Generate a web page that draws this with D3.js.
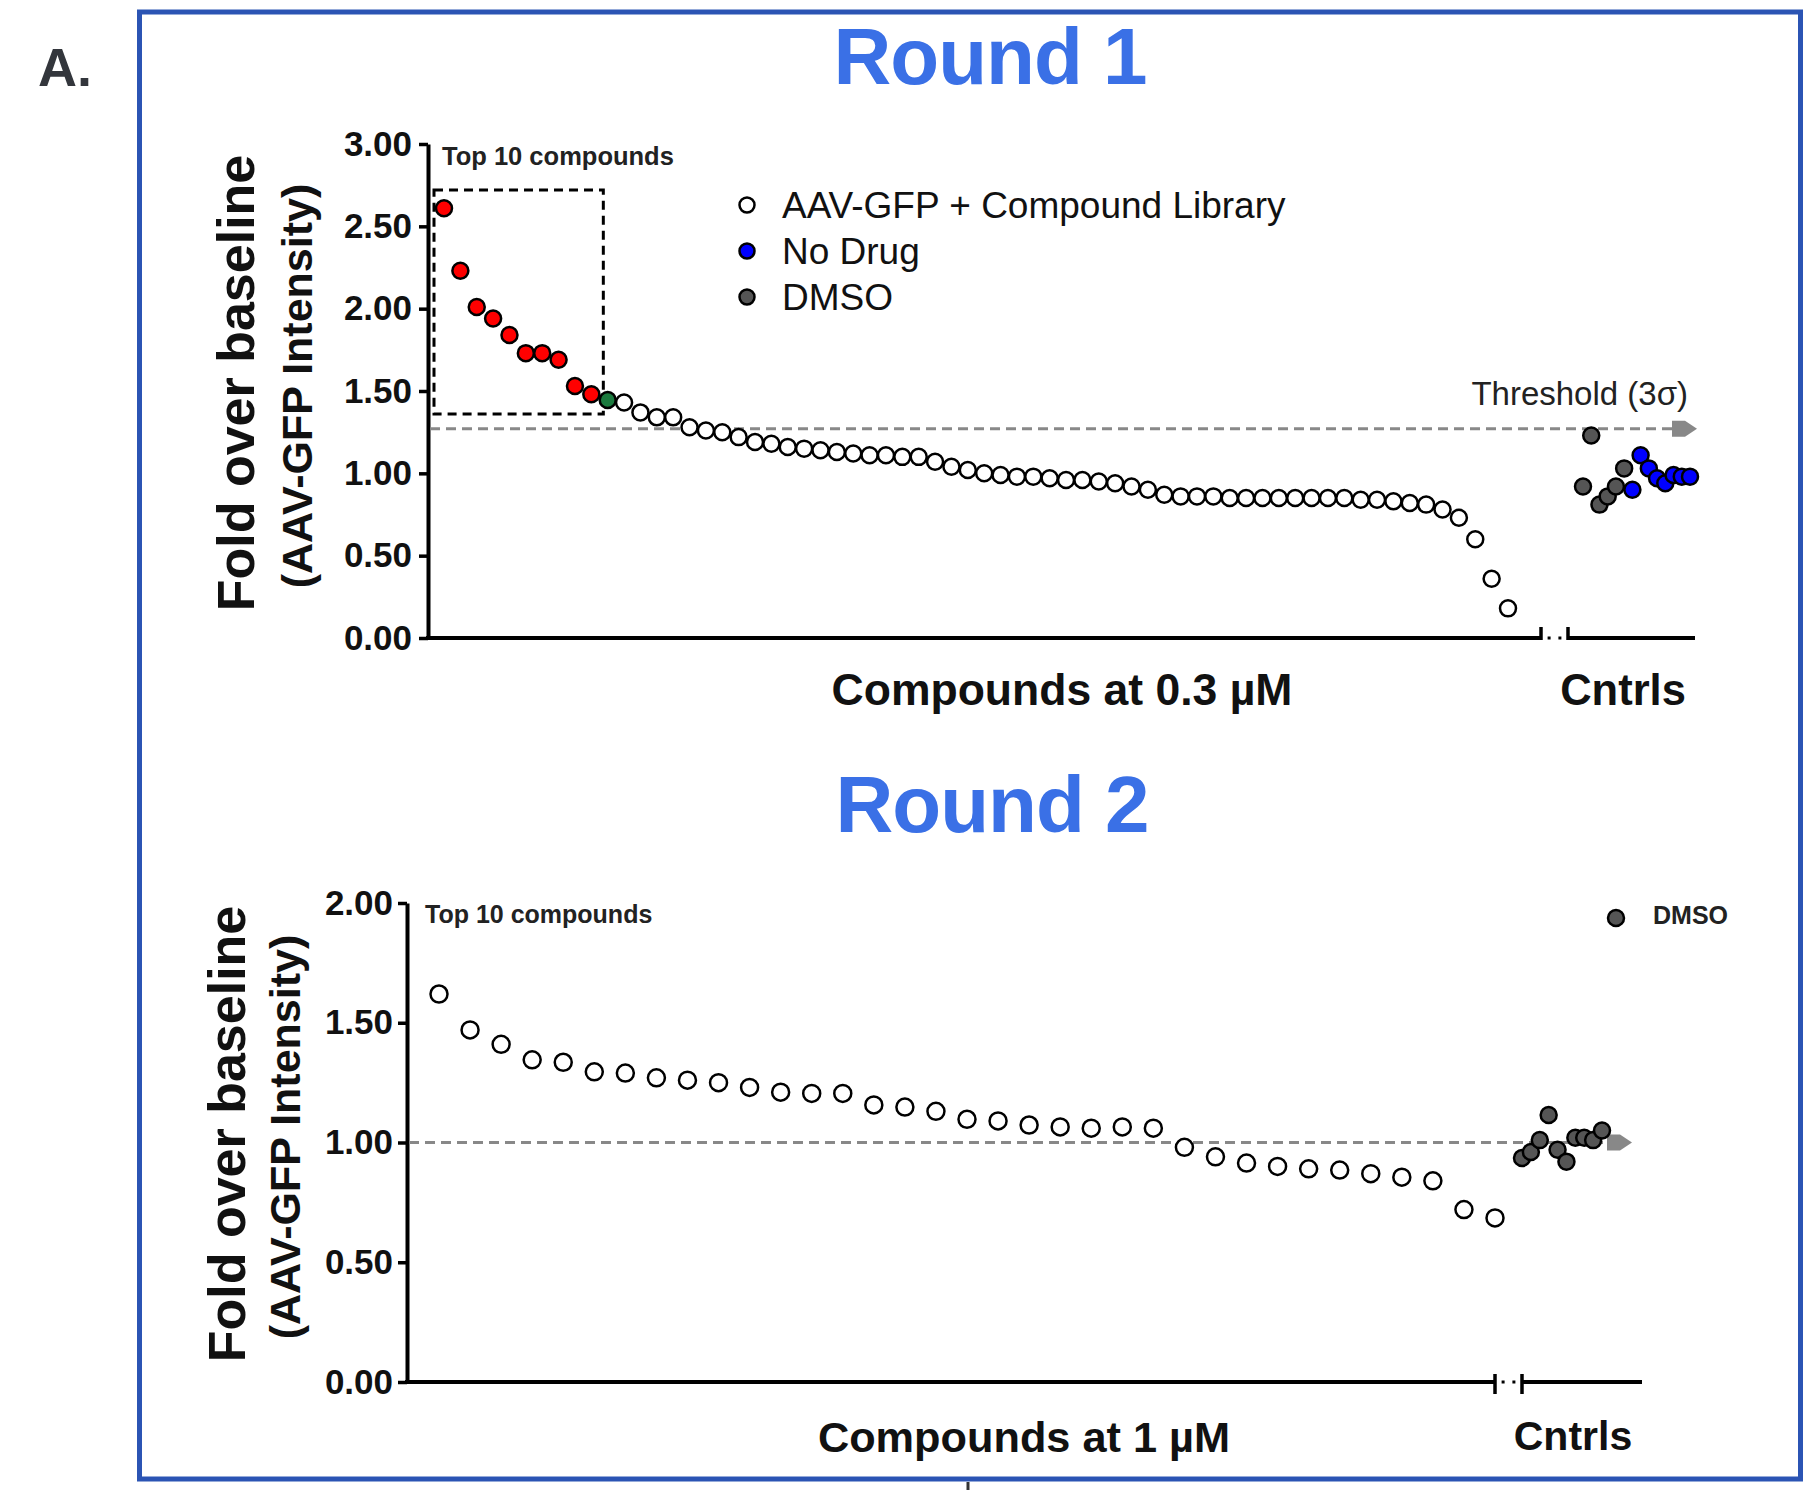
<html><head>
<script src="https://d3js.org/d3.v7.min.js"></script>
<style>
  body { margin: 0; background: #fff; }
  text { font-family: "Liberation Sans", Arial, sans-serif; }
  .tick text { font-weight: bold; font-size: 35px; fill: #111; }
</style>
</head>
<body>
<svg id="chart" width="1815" height="1490"></svg>
<script>

// ---- Data ----

// Round 1: compounds at 0.3 uM, ranked (first 10 = top 10 hits, 11th = green)
const round1Values = [2.61, 2.23, 2.01, 1.94, 1.84, 1.73, 1.73, 1.69, 1.53, 1.48,
  1.445, 1.43, 1.37, 1.34, 1.34, 1.28, 1.26, 1.25, 1.22, 1.19,
  1.18, 1.16, 1.15, 1.14, 1.13, 1.12, 1.11, 1.11, 1.10, 1.10,
  1.07, 1.04, 1.02, 1.00, 0.99, 0.98, 0.98, 0.97, 0.96, 0.96,
  0.95, 0.94, 0.92, 0.90, 0.87, 0.86, 0.86, 0.86, 0.85, 0.85,
  0.85, 0.85, 0.85, 0.85, 0.85, 0.85, 0.84, 0.84, 0.83, 0.82,
  0.81, 0.78, 0.73, 0.60, 0.36, 0.18];
const round1Dmso = [0.92, 1.23, 0.81, 0.86, 0.92, 1.03];
const round1NoDrug = [0.90, 1.11, 1.03, 0.97, 0.94, 0.99, 0.98, 0.98];
const round1Threshold = 1.27;

// Round 2: compounds at 1 uM
const round2Values = [1.62, 1.47, 1.41, 1.345, 1.335, 1.295, 1.29, 1.27, 1.26, 1.25,
  1.23, 1.21, 1.205, 1.205, 1.157, 1.148, 1.13, 1.097, 1.09, 1.073,
  1.065, 1.06, 1.065, 1.06, 0.98, 0.94, 0.914, 0.90, 0.89, 0.885,
  0.87, 0.855, 0.84, 0.72, 0.685];
const round2Dmso = [0.935, 0.96, 1.01, 1.115, 0.97, 0.92, 1.02, 1.02, 1.01, 1.05];
const round2Threshold = 1.00;

const round1Ticks = [0, 0.5, 1, 1.5, 2, 2.5, 3];
const round2Ticks = [0, 0.5, 1, 1.5, 2];

const legendLabels = ["AAV-GFP + Compound Library", "No Drug", "DMSO"];
const topN = 10;

// colours
const colRed = "#ff0000", colGreen = "#1b7a3e", colBlue = "#0000ff", colGray = "#555555";

const svg = d3.select("#chart");
const fmt = d3.format(".2f");

// "A." panel label and blue frame
svg.append("text").attr("x", 38).attr("y", 86)
   .style("font-size", "54px").style("font-weight", "bold").attr("fill", "#33363c").text("A.");
svg.append("rect").attr("x", 139.5).attr("y", 12).attr("width", 1661).attr("height", 1467)
   .attr("fill", "none").attr("stroke", "#2b54b4").attr("stroke-width", 5);
svg.append("line").attr("x1", 968).attr("x2", 968).attr("y1", 1482).attr("y2", 1490)
   .attr("stroke", "#333").attr("stroke-width", 3);

function title(txt, x, y) {
  svg.append("text").attr("x", x).attr("y", y).attr("text-anchor", "middle")
     .style("font-size", "80px").style("font-weight", "bold").style("letter-spacing", "-1px")
     .attr("fill", "#3a70e6").text(txt);
}

function yTitle(x1, x2, cy) {
  svg.append("text").attr("transform", "translate(" + x1 + "," + cy + ") rotate(-90)")
     .attr("text-anchor", "middle").style("font-size", "52px").style("font-weight", "bold")
     .attr("fill", "#111").text("Fold over baseline");
  svg.append("text").attr("transform", "translate(" + x2 + "," + (cy + 3) + ") rotate(-90)")
     .attr("text-anchor", "middle").style("font-size", "43px").style("font-weight", "bold")
     .attr("fill", "#111").text("(AAV-GFP Intensity)");
}

function xLabel(txt, x, y, size) {
  svg.append("text").attr("x", x).attr("y", y).attr("text-anchor", "middle")
     .style("font-size", size + "px").style("font-weight", "bold").attr("fill", "#111").text(txt);
}

// draws the y axis, the broken x axis and the dashed threshold line
function frame(y, ticks, axisX, xEnd, breakA, breakB, xRight, threshold, arrowX, tickUp, tickDown, pad) {
  let yAxis = svg.append("g").attr("transform", "translate(" + axisX + ",0)")
     .call(d3.axisLeft(y).tickValues(ticks).tickFormat(fmt).tickSize(9).tickSizeOuter(0).tickPadding(pad));
  yAxis.select(".domain").attr("stroke", "#000").attr("stroke-width", 4);
  yAxis.selectAll(".tick line").attr("stroke", "#000").attr("stroke-width", 3.5);

  const y0 = y(0);
  const seg = svg.append("g").attr("stroke", "#000");
  seg.append("line").attr("x1", axisX - 2).attr("x2", breakA).attr("y1", y0).attr("y2", y0).attr("stroke-width", 4);
  seg.append("line").attr("x1", breakB).attr("x2", xRight).attr("y1", y0).attr("y2", y0).attr("stroke-width", 4);
  [breakA, breakB].forEach(bx => {
    seg.append("line").attr("x1", bx).attr("x2", bx).attr("y1", y0 - tickUp).attr("y2", y0 + tickDown).attr("stroke-width", 3.5);
  });
  [breakA + (breakB - breakA) * 0.3, breakA + (breakB - breakA) * 0.7].forEach(dx => {
    svg.append("rect").attr("x", dx - 1.5).attr("y", y0 - 1.5).attr("width", 3).attr("height", 3).attr("fill", "#000");
  });

  const ty = y(threshold);
  svg.append("line").attr("x1", axisX + 2).attr("x2", xEnd).attr("y1", ty).attr("y2", ty)
     .attr("stroke", "#888").attr("stroke-width", 3).attr("stroke-dasharray", "10,6");
  svg.append("path")
     .attr("d", "M" + arrowX + "," + (ty - 8) + " h13 l12,8 l-12,8 h-13 z")
     .attr("fill", "#888");
}

function dots(data, cx, cy, fill, r) {
  svg.append("g").selectAll("circle").data(data).join("circle")
     .attr("cx", cx).attr("cy", cy).attr("r", r)
     .attr("fill", fill).attr("stroke", "#000").attr("stroke-width", 2.5);
}

// ---------------- Round 1 ----------------
title("Round 1", 990, 84);

const y1 = d3.scaleLinear().domain([0, 3]).range([638, 144]);
const x1 = d3.scaleLinear().domain([0, round1Values.length - 1]).range([444, 1508]);
const c1 = d3.scaleLinear().domain([0, round1Dmso.length + round1NoDrug.length - 1]).range([1583, 1690]);

frame(y1, round1Ticks, 428, 1680, 1541, 1568, 1695, round1Threshold, 1672, 11, 2, 7);

// dashed box around the top 10
svg.append("rect")
   .attr("x", x1(0) - 10).attr("y", y1(2.72))
   .attr("width", x1(topN - 1) + 12 - (x1(0) - 10)).attr("height", y1(1.36) - y1(2.72))
   .attr("fill", "none").attr("stroke", "#000").attr("stroke-width", 3).attr("stroke-dasharray", "9,6");
svg.append("text").attr("x", 442).attr("y", 165).style("font-size", "25.5px").style("font-weight", "bold")
   .attr("fill", "#222").text("Top 10 compounds");

dots(round1Values, (d, i) => x1(i), d => y1(d),
     (d, i) => i < topN ? colRed : (i === topN ? colGreen : "#fff"), 8);
dots(round1Dmso, (d, i) => c1(i), d => y1(d), colGray, 8);
dots(round1NoDrug, (d, i) => c1(i + round1Dmso.length), d => y1(d), colBlue, 8);

svg.append("text").attr("x", 1688).attr("y", 405).attr("text-anchor", "end")
   .style("font-size", "33px").attr("fill", "#222").text("Threshold (3\u03c3)");

// legend
const legendFill = ["#fff", colBlue, colGray];
legendLabels.forEach((lab, i) => {
  let base = 218 + i * 46;
  svg.append("circle").attr("cx", 747).attr("cy", base - 13).attr("r", 7.5)
     .attr("fill", legendFill[i]).attr("stroke", "#000").attr("stroke-width", 2.5);
  svg.append("text").attr("x", 782).attr("y", base).style("font-size", "37px")
     .attr("fill", "#111").text(lab);
});

yTitle(254, 312, 383);
xLabel("Compounds at 0.3 \u00b5M", 1062, 705, 44.5);
xLabel("Cntrls", 1623, 705, 43.5);

// ---------------- Round 2 ----------------
title("Round 2", 992, 832);

const y2 = d3.scaleLinear().domain([0, 2]).range([1382, 903]);
const x2 = d3.scaleLinear().domain([0, round2Values.length - 1]).range([439, 1495]);
const c2 = d3.scaleLinear().domain([0, round2Dmso.length - 1]).range([1522, 1602]);

frame(y2, round2Ticks, 407, 1615, 1495, 1522, 1642, round2Threshold, 1607, 8, 12, 5);

svg.append("text").attr("x", 425).attr("y", 923).style("font-size", "25px").style("font-weight", "bold")
   .attr("fill", "#222").text("Top 10 compounds");

dots(round2Values, (d, i) => x2(i), d => y2(d), "#fff", 8.5);
dots(round2Dmso, (d, i) => c2(i), d => y2(d), colGray, 8);

svg.append("circle").attr("cx", 1616).attr("cy", 918).attr("r", 8)
   .attr("fill", colGray).attr("stroke", "#000").attr("stroke-width", 2.5);
svg.append("text").attr("x", 1653).attr("y", 924).style("font-size", "25px").style("font-weight", "bold")
   .attr("fill", "#222").text("DMSO");

yTitle(245, 300, 1134);
xLabel("Compounds at 1 \u00b5M", 1024, 1452, 43.3);
xLabel("Cntrls", 1573, 1450, 41);

</script>
</body>
</html>
